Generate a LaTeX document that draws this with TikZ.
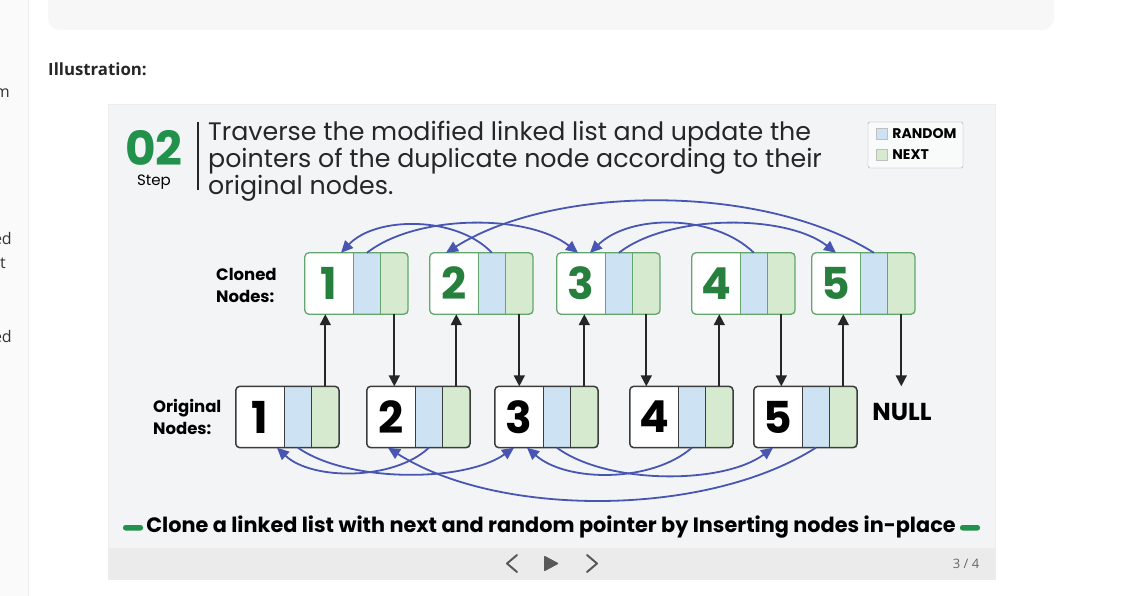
\documentclass[tikz,border=0pt]{standalone}
\usepackage{fontspec}
\setmainfont{Poppins}
\newfontfamily\uifont{Open Sans}
\usetikzlibrary{positioning,arrows.meta}
\definecolor{panelgray}{HTML}{F3F4F6}
\definecolor{barbg}{HTML}{EBEBEB}
\definecolor{randblue}{HTML}{CDE2F2}
\definecolor{nextgreen}{HTML}{D6EACF}
\definecolor{clonegreen}{HTML}{64A56E}
\definecolor{numgreen}{HTML}{267F3C}
\definecolor{stepgreen}{HTML}{22914B}
\definecolor{arcblue}{HTML}{4856B2}
\definecolor{origgray}{HTML}{3C3C3C}
\tikzset{
  valpart/.style={minimum width=48pt, minimum height=61pt, inner sep=0pt, fill=white, font=\fontsize{44}{44}\selectfont\bfseries},
  randpart/.style={minimum width=27pt, minimum height=61pt, inner sep=0pt, fill=randblue},
  nextpart/.style={minimum width=27pt, minimum height=61pt, inner sep=0pt, fill=nextgreen},
  pointer/.style={-{Triangle[length=11pt,width=11pt]}, line width=1.7pt, black!85},
  randarc/.style={-{Triangle[length=12pt,width=11pt]}, line width=1.8pt, arcblue},
  listlabel/.style={align=left, anchor=west, inner sep=0pt, font=\fontsize{16.5}{22}\selectfont\bfseries},
}
\begin{document}
\begin{tikzpicture}[x=1pt, y=-1pt]
\useasboundingbox (0,0) rectangle (1125,596);
\fill[white] (0,0) rectangle (1125,596);
% page around the picture
\fill[gray!4] (0,0) rectangle (28,596);
\draw[gray!15] (28,0) -- (28,596);
\fill[gray!6, rounded corners=12pt] (48,-20) rectangle (1054,30);
\node[anchor=base east, inner sep=0, font=\uifont\fontsize{16}{16}\selectfont, text=black!80] (sidem) at (10,98) {m};
\node[anchor=base east, inner sep=0, font=\uifont\fontsize{16}{16}\selectfont, text=black!80] (sideeda) at (12,245) {ed};
\node[anchor=base east, inner sep=0, font=\uifont\fontsize{16}{16}\selectfont, text=black!80] (sidet) at (6,269) {t};
\node[anchor=base east, inner sep=0, font=\uifont\fontsize{16}{16}\selectfont, text=black!80] (sideedb) at (12,342) {ed};
\node[anchor=base west, inner sep=0, font=\uifont\bfseries\fontsize{16.8}{20}\selectfont, text=black!85] (illus) at (48,76) {Illustration:};

% panel and slider bar
\filldraw[fill=panelgray, draw=gray!15] (108,104) rectangle (995,548);
\filldraw[fill=barbg, draw=gray!15] (108,548) rectangle (995,579);

% step header
\node[text=stepgreen, font=\fontsize{47}{47}\selectfont\bfseries, inner sep=0] (stepnum) at (154,147.5) {02};
\node[font=\fontsize{15}{15}\selectfont, inner sep=0] (steplbl) at (154,182.5) {Step};
\draw[line width=1.6pt, black!85] (198,122) -- (198,190);
\node[anchor=north west, align=left, inner sep=0, font=\fontsize{25.3}{27.2}\selectfont, text=black!85] (title) at (208,120.5) {Traverse the modified linked list and update the\\pointers of the duplicate node according to their\\original nodes.};

% legend
\filldraw[fill=white!50!panelgray, draw=gray!70, rounded corners=2pt] (868,122) rectangle (963,168);
\node[fill=randblue, draw=gray!50, minimum size=11pt, inner sep=0] (keyrand) at (881.5,134) {};
\node[right=5pt of keyrand, inner sep=0, font=\fontsize{14}{14}\selectfont\bfseries] (keyrandtxt) {RANDOM};
\node[fill=nextgreen, draw=gray!50, minimum size=11pt, inner sep=0] (keynext) at (881.5,154.5) {};
\node[right=5pt of keynext, inner sep=0, font=\fontsize{14}{14}\selectfont\bfseries] (keynexttxt) {NEXT};

\node[listlabel] (clonedlbl) at (216,285) {Cloned\\Nodes:};
\node[listlabel] (origlbl) at (153,417) {Original\\Nodes:};

% cloned nodes
\foreach \i/\x in {1/329,2/454,3/581,4/716,5/836} {
  \node[valpart, text=numgreen] (c\i) at (\x,283.5) {\i};
  \node[randpart, right=0pt of c\i] (cr\i) {};
  \node[nextpart, right=0pt of cr\i] (cn\i) {};
  \draw[clonegreen, line width=1.3pt, rounded corners=4pt] (c\i.north west) rectangle (cn\i.south east);
  \draw[clonegreen, line width=1pt] (cr\i.north west) -- (cr\i.south west) (cn\i.north west) -- (cn\i.south west);
}
% original nodes
\foreach \i/\x in {1/260,2/391,3/519,4/654,5/778} {
  \node[valpart] (o\i) at (\x,417) {\i};
  \node[randpart, right=0pt of o\i] (or\i) {};
  \node[nextpart, right=0pt of or\i] (on\i) {};
  \draw[origgray, line width=1.5pt, rounded corners=4pt] (o\i.north west) rectangle (on\i.south east);
  \draw[origgray, line width=1pt] (or\i.north west) -- (or\i.south west) (on\i.north west) -- (on\i.south west);
}
\node[font=\fontsize{24.5}{24.5}\selectfont\bfseries, inner sep=0] (null) at (902,412) {NULL};

% next pointers
\foreach \i in {1,...,5}
  \draw[pointer] (on\i.north) -- (on\i.north |- c\i.south);
\foreach \i/\j in {1/2,2/3,3/4,4/5}
  \draw[pointer] (cn\i.south) -- (cn\i.south |- o\j.north);
\draw[pointer] (cn5.south) -- (cn5.south |- o5.north);

% random pointers
\draw[randarc] (cr2.north) .. controls +(-35,-37) and +(35,-37) .. ([xshift=12pt]c1.north);
\draw[randarc] (cr1.north) .. controls +(50,-39) and +(-50,-39) .. ([xshift=-3pt]c3.north);
\draw[randarc] (cr5.north) .. controls +(-110,-69) and +(110,-69) .. ([xshift=-8pt]c2.north);
\draw[randarc] (cr3.north) .. controls +(50,-39) and +(-50,-39) .. (c5.north);
\draw[randarc] (cr4.north) .. controls +(-40,-39) and +(40,-39) .. ([xshift=9pt]c3.north);
\draw[randarc] (or2.south) .. controls +(-35,33) and +(35,33) .. ([xshift=17pt]o1.south);
\draw[randarc] (or1.south) .. controls +(50,35) and +(-50,35) .. ([xshift=-5pt]o3.south);
\draw[randarc] (or5.south) .. controls +(-110,70) and +(110,70) .. ([xshift=-3pt]o2.south);
\draw[randarc] (or3.south) .. controls +(50,37) and +(-50,37) .. ([xshift=-5pt]o5.south);
\draw[randarc] (or4.south) .. controls +(-40,35) and +(40,35) .. ([xshift=8pt]o3.south);

% caption
\node[font=\fontsize{20.8}{20.8}\selectfont\bfseries, inner sep=0] (caption) at (551,527) {Clone a linked list with next and random pointer by Inserting nodes in-place};
\fill[stepgreen, rounded corners=2.5pt] (123,525) rectangle (143,530.5);
\fill[stepgreen, rounded corners=2.5pt] (960,525) rectangle (980,530.5);

% slider controls
\draw[black!65, line width=2pt, line cap=round, line join=round] (517,555) -- (507,563.5) -- (517,572);
\fill[black!65, rounded corners=1pt] (544,555.5) -- (559,563.5) -- (544,571.5) -- cycle;
\draw[black!65, line width=2pt, line cap=round, line join=round] (587,555) -- (597,563.5) -- (587,572);
\node[font=\uifont\fontsize{13}{13}\selectfont, text=black!60] (pagecount) at (966,564) {3 / 4};
\end{tikzpicture}
\end{document}
